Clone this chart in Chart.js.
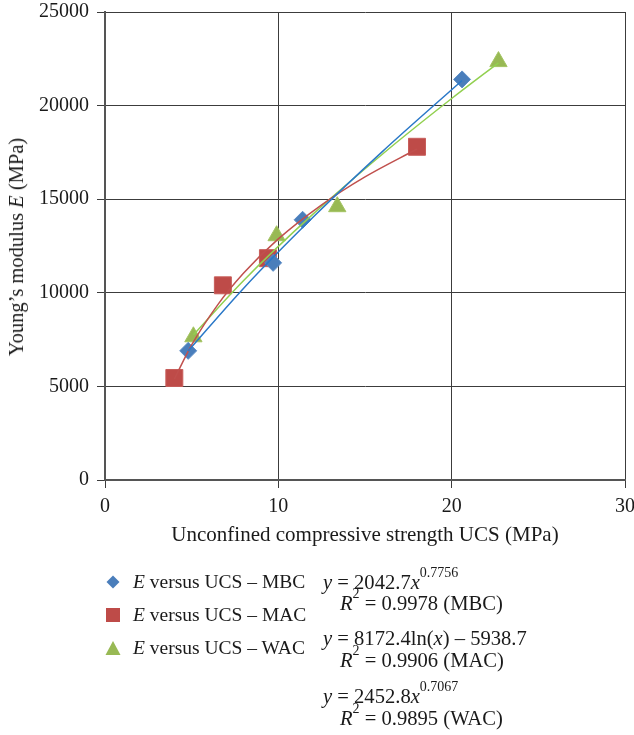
<!DOCTYPE html>
<html><head><meta charset="utf-8">
<script src="https://cdn.jsdelivr.net/npm/chart.js@4"></script>
<style>
body{margin:0;background:#fff;overflow:hidden;}
#wrap{position:relative;width:634px;height:735px;font-family:"Liberation Serif","DejaVu Serif",serif;color:#1a1a1a;overflow:hidden;}
#c{position:absolute;left:0;top:0;}
.ytitle{position:absolute;left:16px;top:247px;transform:translate(-50%,-50%) rotate(-90deg);white-space:nowrap;font-size:20.5px;line-height:22px;}
.t{position:absolute;font-size:19.5px;line-height:22px;height:22px;white-space:nowrap;}
.e{font-size:20.6px;}
.t sup{font-size:14px;line-height:0;position:relative;top:-4px;}
.mk{position:absolute;}
</style></head>
<body>
<div id="wrap">
<canvas id="c" width="634" height="735"></canvas>
<div class="ytitle">Young’s modulus <i>E</i> (MPa)</div>

<svg class="mk" style="left:104px;top:573px" width="18" height="18"><polygon points="9,2.5 15.5,9 9,15.5 2.5,9" fill="#4a7ebb"/></svg>
<svg class="mk" style="left:104px;top:606px" width="18" height="18"><rect x="2" y="2" width="14" height="14" fill="#be4b48"/></svg>
<svg class="mk" style="left:104px;top:639px" width="18" height="18"><polygon points="9,2 16.5,16 1.5,16" fill="#98b954"/></svg>

<div class="t" style="left:133px;top:571px"><i>E</i> versus UCS – MBC</div>
<div class="t" style="left:133px;top:604px"><i>E</i> versus UCS – MAC</div>
<div class="t" style="left:133px;top:637px"><i>E</i> versus UCS – WAC</div>

<div class="t e" style="left:323px;top:571px"><i>y</i> = 2042.7<i>x</i><sup>0.7756</sup></div>
<div class="t e" style="left:340px;top:592px"><i>R</i><sup>2</sup> = 0.9978 (MBC)</div>
<div class="t e" style="left:323px;top:627px"><i>y</i> = 8172.4ln(<i>x</i>) – 5938.7</div>
<div class="t e" style="left:340px;top:649px"><i>R</i><sup>2</sup> = 0.9906 (MAC)</div>
<div class="t e" style="left:323px;top:685px"><i>y</i> = 2452.8<i>x</i><sup>0.7067</sup></div>
<div class="t e" style="left:340px;top:707px"><i>R</i><sup>2</sup> = 0.9895 (WAC)</div>
</div>
<script>
// Measured points
const mbcUCS = [4.8, 9.7, 11.4, 20.6];
const mbcE   = [6900, 11600, 13900, 21400];
const macUCS = [4.0, 6.8, 9.4, 18.0];
const macE   = [5450, 10400, 11850, 17800];
const wacUCS = [5.1, 9.9, 13.4, 22.7];
const wacE   = [7650, 13050, 14600, 22350];

// Trendline points
const mbcTrendUCS = [4.8, 8, 12, 16, 20.6];
const mbcTrendE   = [6896, 10248, 14035, 17543, 21342];
const macTrendUCS = [4.0, 5, 6.5, 8, 10, 12.5, 15, 18];
const macTrendE   = [5391, 7214, 9358, 11055, 12879, 14702, 16193, 17683];
const wacTrendUCS = [5.1, 8, 12, 16, 20, 22.7];
const wacTrendE   = [7757, 10662, 14201, 17403, 20378, 22284];

// Axis ticks
const xTicks = [0, 10, 20, 30];
const yTicks = [0, 5000, 10000, 15000, 20000, 25000];

const pts = (xs, ys) => xs.map((x, i) => ({x: x, y: ys[i]}));
const FAM = '"Liberation Serif","DejaVu Serif",serif';
const TICKFONT = {family: FAM, size: 20};
const TITLEFONT = {family: FAM, size: 21};

new Chart(document.getElementById('c'), {
  type: 'scatter',
  data: {
    datasets: [
      {data: pts(mbcUCS, mbcE), pointStyle: 'rectRot', pointRadius: 8.5, backgroundColor: '#4a7ebb', borderColor: '#5b8cc6', borderWidth: 1, order: 5},
      {data: pts(macUCS, macE), pointStyle: 'rect', pointRadius: 12, backgroundColor: '#be4b48', borderColor: '#c85e5b', borderWidth: 1, order: 5},
      {data: pts(wacUCS, wacE), pointStyle: 'triangle', pointRadius: 10, backgroundColor: '#98b954', borderColor: '#a4c463', borderWidth: 1, order: 5},
      {data: pts(mbcTrendUCS, mbcTrendE), showLine: true, pointRadius: 0, borderColor: '#2a78c8', borderWidth: 1.5, cubicInterpolationMode: 'monotone', order: 1},
      {data: pts(macTrendUCS, macTrendE), showLine: true, pointRadius: 0, borderColor: '#c0504d', borderWidth: 1.5, cubicInterpolationMode: 'monotone', order: 1},
      {data: pts(wacTrendUCS, wacTrendE), showLine: true, pointRadius: 0, borderColor: '#92d050', borderWidth: 1.5, cubicInterpolationMode: 'monotone', order: 1}
    ]
  },
  options: {
    responsive: false,
    animation: false,
    devicePixelRatio: 1,
    layout: {autoPadding: false, padding: {left: 0, right: 9, top: 12, bottom: 187}},
    plugins: {legend: {display: false}, tooltip: {enabled: false}},
    scales: {
      x: {
        type: 'linear', min: 0, max: 30,
        afterBuildTicks: s => { s.ticks = xTicks.map(v => ({value: v})); },
        afterFit: s => { s.height = 68; s.paddingLeft = 0; s.paddingRight = 0; },
        ticks: {font: TICKFONT, color: '#1a1a1a', padding: 7, maxRotation: 0, callback: v => String(v)},
        grid: {color: '#3c3c3c', lineWidth: 1, tickLength: 8, drawTicks: true},
        border: {color: '#555', width: 2},
        title: {display: true, text: 'Unconfined compressive strength UCS (MPa)', font: TITLEFONT, color: '#1a1a1a', padding: {top: 0, bottom: 0}}
      },
      y: {
        type: 'linear', min: 0, max: 25000,
        afterBuildTicks: s => { s.ticks = yTicks.map(v => ({value: v})); },
        afterFit: s => { s.width = 105; s.paddingTop = 0; s.paddingBottom = 0; },
        ticks: {font: TICKFONT, color: '#1a1a1a', padding: 8, callback: v => String(v)},
        grid: {color: '#3c3c3c', lineWidth: 1, tickLength: 8, drawTicks: true},
        border: {color: '#555', width: 2}
      }
    }
  }
});
</script>
</body></html>
